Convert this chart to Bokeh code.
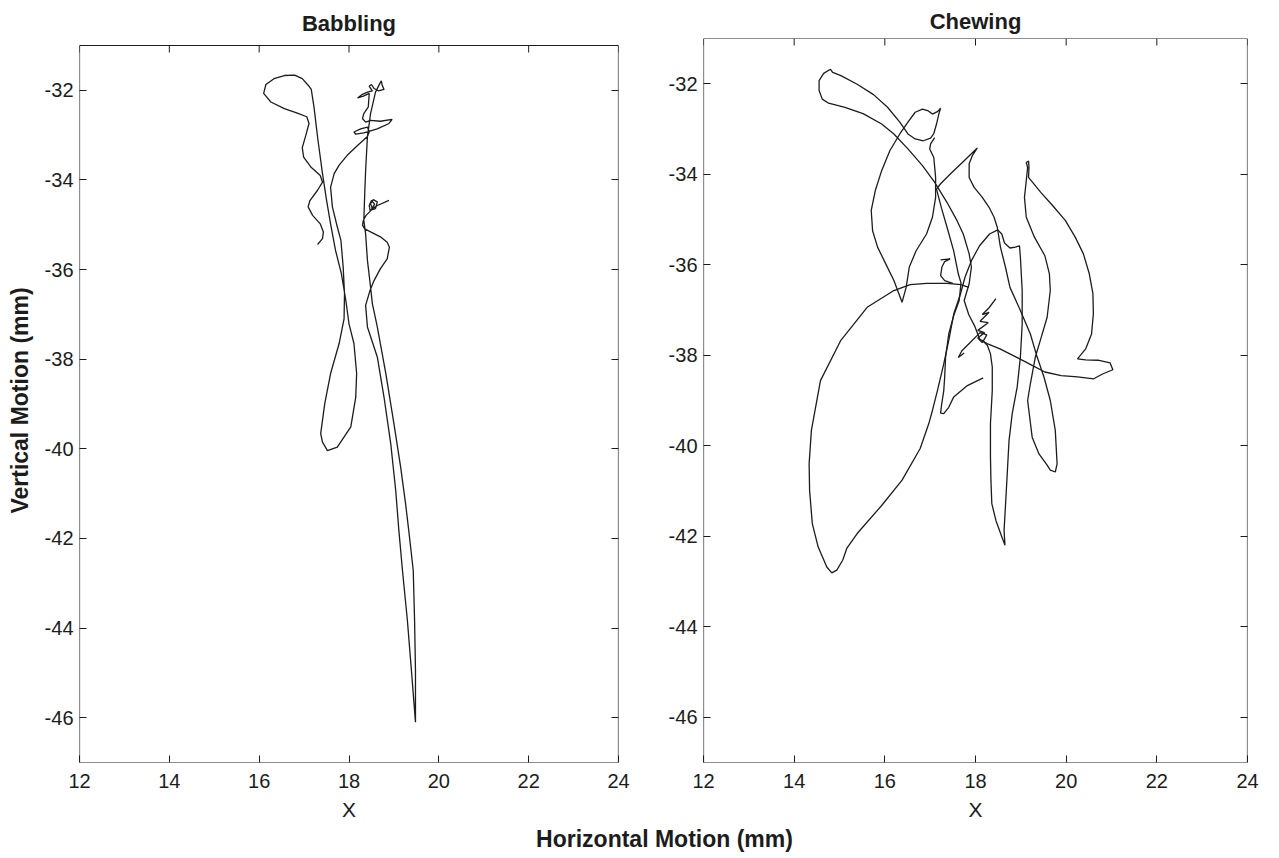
from bokeh.plotting import figure
from bokeh.models import LinearAxis, FixedTicker, Label, Range1d, BoxAnnotation
from bokeh.layouts import column, row
from bokeh.embed import file_html
from bokeh.resources import INLINE

# ---------------- data ----------------
x_ticks = [12, 14, 16, 18, 20, 22, 24]
y_ticks = [-46, -44, -42, -40, -38, -36, -34, -32]
x_limits = [12, 24]
y_limits = [-47, -31]
panel_titles = ["Babbling", "Chewing"]
x_label = "X"
y_label = "Vertical Motion (mm)"
shared_x_label = "Horizontal Motion (mm)"

# Babbling trajectory (mm)
babbling_x = [18.89, 18.63, 18.52, 18.48, 18.54, 18.63, 18.59, 18.47, 18.45, 18.50, 18.57, 18.48, 18.38, 18.32,
              18.30, 18.35, 18.48, 18.70, 18.85, 18.90, 18.85, 18.70, 18.56, 18.47, 18.37, 18.41, 18.63, 18.78,
              18.93, 19.04, 19.11, 19.19, 19.30, 19.39, 19.48,
              19.48, 19.46, 19.43, 19.33, 19.26, 19.15, 19.00, 18.82, 18.63, 18.52, 18.48, 18.41, 18.37, 18.33,
              18.35, 18.37, 18.41, 18.48, 18.59, 18.69,
              18.72, 18.74, 18.78, 18.65, 18.56, 18.50, 18.45, 18.52, 18.41, 18.30, 18.19, 18.32, 18.45, 18.43,
              18.33, 18.30, 18.37, 18.48, 18.70, 18.96, 18.89, 18.63, 18.33, 18.15, 18.11, 18.26, 18.41, 18.45, 18.41,
              18.19, 17.96, 17.78, 17.67, 17.59, 17.63, 17.74, 17.82, 17.87, 17.90, 17.89, 17.78, 17.59, 17.46,
              17.37, 17.41, 17.52, 17.74, 18.04, 18.15, 18.17, 18.11, 18.00, 17.93,
              17.83, 17.70, 17.59, 17.50, 17.41, 17.31, 17.22, 17.16,
              17.11, 16.96, 16.79, 16.56, 16.33, 16.15, 16.10, 16.26, 16.56, 16.85, 17.06, 17.11, 17.04, 16.96,
              16.99, 17.15, 17.36, 17.41, 17.30, 17.13, 17.09, 17.19, 17.36, 17.43, 17.41, 17.30]
babbling_y = [-34.455, -34.57, -34.64, -34.53, -34.44, -34.49, -34.64, -34.68, -34.57, -34.46, -34.54, -34.69, -34.79, -34.90,
              -35.01, -35.09, -35.16, -35.27, -35.39, -35.50, -35.76, -35.98, -36.24, -36.46, -36.80, -37.28, -37.95, -38.85,
              -39.89, -40.93, -41.82, -42.71, -43.83, -44.95, -46.10,
              -44.95, -43.83, -42.71, -41.82, -41.23, -40.41, -39.44, -38.32, -37.28, -36.76, -36.39, -35.79, -35.20, -34.90,
              -34.31, -33.79, -33.04, -32.52, -32.04, -31.84,
              -31.79, -31.89, -31.98, -32.01, -31.96, -31.87, -31.91, -32.01, -32.04, -32.09, -32.17, -32.13, -32.07, -32.37,
              -32.52, -32.63, -32.71, -32.67, -32.69, -32.65, -32.74, -32.86, -32.95, -32.98, -32.93, -32.86, -32.82, -32.93, -33.03,
              -33.23, -33.45, -33.67, -33.86, -34.16, -34.60, -35.05, -35.35, -35.94, -36.54, -37.10, -37.65, -38.32, -38.99,
              -39.66, -39.85, -40.04, -39.96, -39.51, -38.85, -38.32, -37.65, -37.21, -36.69,
              -36.09, -35.57, -34.98, -34.45, -33.86, -33.12, -32.37, -31.98,
              -31.91, -31.74, -31.66, -31.67, -31.74, -31.87, -32.07, -32.26, -32.41, -32.51, -32.59, -32.74, -33.00, -33.28,
              -33.49, -33.71, -33.90, -34.05, -34.23, -34.46, -34.60, -34.79, -34.98, -35.16, -35.31, -35.44]

# Chewing trajectory (mm), drawn as consecutive pieces
chew_loop_x = [17.85, 17.68, 17.37, 16.92, 16.56, 16.20, 15.61, 15.03, 14.58, 14.38, 14.33, 14.34, 14.40, 14.53,
               14.72, 14.83, 14.94, 15.07, 15.16, 15.39, 15.93, 16.38, 16.78, 16.97, 17.05, 17.16, 17.30, 17.41,
               17.52, 17.67, 17.77, 17.91, 18.09, 18.31, 18.49, 18.58, 18.64, 18.76, 18.88, 18.97, 18.99, 19.01,
               19.03, 19.03, 18.99, 18.92, 18.81, 18.74, 18.70, 18.66, 18.63, 18.65, 18.58, 18.45, 18.36, 18.34,
               18.33, 18.33, 18.37, 18.37, 18.33, 18.26, 18.15]
chew_loop_y = [-36.50, -36.44, -36.41, -36.41, -36.44, -36.57, -36.94, -37.67, -38.56, -39.66, -40.40, -40.98, -41.72, -42.24,
               -42.68, -42.81, -42.75, -42.53, -42.27, -41.94, -41.32, -40.76, -40.06, -39.51, -39.22, -38.78, -38.19, -37.67,
               -37.09, -36.64, -36.27, -35.91, -35.58, -35.32, -35.23, -35.32, -35.52, -35.63, -35.61, -35.58, -35.83, -36.20,
               -36.57, -37.31, -38.04, -38.70, -39.29, -39.88, -40.62, -41.35, -41.87, -42.20, -42.01, -41.65, -41.28, -40.76,
               -40.25, -39.51, -38.78, -38.26, -37.97, -37.78, -37.67]

chew_flame_x = [18.17, 17.82, 17.52, 17.41, 17.30, 17.23, 17.25, 17.30, 17.32, 17.34, 17.41, 17.52, 17.64, 17.68,
                17.62, 17.52, 17.38, 17.25, 17.14, 17.23, 17.45, 17.75, 18.04, 17.93, 17.86, 17.86, 17.97, 18.15,
                18.30, 18.41, 18.48, 18.55, 18.66, 18.76, 18.99, 19.21, 19.36, 19.51, 19.65, 19.76, 19.80, 19.76,
                19.65, 19.58, 19.40, 19.25, 19.15, 19.21, 19.32, 19.43, 19.58, 19.65, 19.63, 19.53, 19.30, 19.12,
                19.08, 19.12, 19.15, 19.12, 19.17, 19.18, 19.17, 19.44, 19.70, 19.98, 20.20, 20.38, 20.51, 20.59,
                20.60, 20.56, 20.43, 20.25, 20.43, 20.70, 20.97, 21.03, 20.79, 20.61, 20.25, 19.89, 19.53, 19.26,
                18.90, 18.54, 18.27, 18.09]
chew_flame_y = [-38.50, -38.67, -38.92, -39.15, -39.29, -39.28, -39.11, -38.78, -38.48, -38.04, -37.53, -37.12, -36.79, -36.40,
                -36.20, -35.70, -35.20, -34.75, -34.33, -34.21, -33.99, -33.70, -33.42, -33.59, -33.77, -34.07, -34.29, -34.51,
                -34.73, -34.95, -35.17, -35.61, -36.05, -36.50, -37.01, -37.53, -38.04, -38.48, -39.00, -39.66, -40.40, -40.58,
                -40.54, -40.43, -40.18, -39.81, -39.00, -38.63, -38.04, -37.67, -37.16, -36.57, -36.20, -35.80, -35.39, -34.95,
                -34.51, -34.14, -33.85, -33.74, -33.71, -33.85, -34.07, -34.40, -34.69, -35.02, -35.39, -35.76, -36.20, -36.64,
                -37.08, -37.53, -37.86, -38.08, -38.10, -38.11, -38.17, -38.32, -38.42, -38.52, -38.48, -38.45, -38.37, -38.23,
                -38.04, -37.86, -37.75, -37.64]

chew_leaf_x = [18.09, 17.98, 17.85, 17.75, 17.86, 17.91, 17.86, 17.73, 17.59, 17.37, 17.10, 16.83, 16.51, 16.20,
               15.93, 15.52, 15.12, 14.76, 14.62, 14.55, 14.55, 14.65, 14.80, 14.85, 15.03, 15.39, 15.75, 16.06,
               16.33, 16.51, 16.67, 16.85, 17.01, 17.08, 17.14, 17.19, 17.23, 17.17, 17.05, 16.96, 16.83, 16.67,
               16.51, 16.33, 16.11, 15.93, 15.79, 15.70, 15.73, 15.84, 16.02, 16.20, 16.38, 16.47, 16.54, 16.69,
               16.92, 17.05, 17.12, 17.12, 17.08, 16.99, 17.01, 17.10]
chew_leaf_y = [-37.64, -37.35, -37.10, -36.79, -36.42, -36.05, -35.76, -35.32, -35.02, -34.62, -34.18, -33.81, -33.44, -33.11,
               -32.89, -32.66, -32.52, -32.43, -32.34, -32.15, -31.93, -31.77, -31.68, -31.75, -31.82, -32.01, -32.24, -32.52,
               -32.85, -33.11, -33.22, -33.26, -33.20, -33.10, -32.89, -32.67, -32.54, -32.61, -32.67, -32.60, -32.56, -32.63,
               -32.85, -33.11, -33.48, -33.92, -34.36, -34.80, -35.25, -35.61, -35.98, -36.35, -36.83, -36.50, -36.05, -35.69,
               -35.32, -34.95, -34.51, -34.07, -33.63, -33.44, -33.33, -33.19]

chew_knot_x = [18.45, 18.30, 18.15, 18.30, 18.10, 18.28, 18.05, 18.20, 18.05, 18.15, 18.25, 18.10, 17.90, 17.70, 17.62, 17.75]
chew_knot_y = [-36.75, -36.95, -37.10, -37.05, -37.25, -37.28, -37.45, -37.50, -37.62, -37.72, -37.55, -37.50, -37.70, -37.90, -38.05, -37.95]

chew_hook_x = [17.23, 17.44, 17.32, 17.26, 17.23, 17.32, 17.50]
chew_hook_y = [-35.89, -35.87, -35.93, -36.05, -36.24, -36.35, -36.41]

chewing_xs = [chew_loop_x, chew_flame_x, chew_leaf_x, chew_knot_x, chew_hook_x]
chewing_ys = [chew_loop_y, chew_flame_y, chew_leaf_y, chew_knot_y, chew_hook_y]

# ---------------- styling ----------------
FONT = "Liberation Sans"
INK = "#1c1c1c"
TICK = 7          # px, ticks point inward
TOP_BORDER = 38
BOTTOM_BORDER = 5
FRAME_H = 724     # both frames share the same canvas rows
LABEL_STRIP_H = 64


def make_panel(title, frame_w, frame_top_gap, ml, mr, ylab, title_standoff):
    # px per mm in this panel: the box (data frame) is FRAME_H - frame_top_gap px tall
    ppu = (FRAME_H - frame_top_gap) / (y_limits[1] - y_limits[0])
    y_top = y_limits[1] + frame_top_gap / ppu
    p = figure(frame_width=frame_w, frame_height=FRAME_H,
               x_range=Range1d(*x_limits), y_range=Range1d(y_limits[0], y_top),
               output_backend="svg", toolbar_location=None, title=title,
               min_border_left=ml, min_border_right=mr,
               min_border_top=TOP_BORDER, min_border_bottom=BOTTOM_BORDER)
    p.xgrid.visible = False
    p.ygrid.visible = False
    p.outline_line_color = None
    p.background_fill_color = "white"
    p.border_fill_color = "white"
    p.title.text_font = FONT
    p.title.text_font_size = "22px"
    p.title.text_font_style = "bold"
    p.title.text_color = INK
    p.title.align = "center"
    p.title.standoff = title_standoff

    p.xaxis.ticker = FixedTicker(ticks=x_ticks, minor_ticks=[])
    p.yaxis.ticker = FixedTicker(ticks=y_ticks, minor_ticks=[])
    p.xaxis.major_label_overrides = {t: str(t) for t in x_ticks}
    p.yaxis.major_label_overrides = {t: str(t) for t in y_ticks}
    for ax in (p.xaxis[0], p.yaxis[0]):
        ax.major_tick_in = TICK
        ax.major_tick_out = 0
        ax.minor_tick_in = 0
        ax.minor_tick_out = 0
        ax.axis_line_color = None
        ax.major_tick_line_color = INK
        ax.major_label_text_font = FONT
        ax.major_label_text_font_size = "20px"
        ax.major_label_text_color = INK
        ax.axis_label_text_font = FONT
        ax.axis_label_text_color = INK
    p.xaxis.major_label_standoff = 11
    p.yaxis.major_label_standoff = 6
    if ylab:
        p.yaxis.axis_label = ylab
        p.yaxis.axis_label_text_font_size = "23px"
        p.yaxis.axis_label_text_font_style = "bold"
        p.yaxis.axis_label_standoff = 9

    # mirrored ticks on the right
    rax = LinearAxis(ticker=FixedTicker(ticks=y_ticks, minor_ticks=[]),
                     major_label_overrides={t: "" for t in y_ticks},
                     major_label_text_font_size="1px", major_label_standoff=0,
                     major_tick_in=TICK, major_tick_out=0, minor_tick_in=0, minor_tick_out=0,
                     axis_line_color=None, major_tick_line_color=INK)
    p.add_layout(rax, "right")
    # mirrored ticks along the top edge of the box
    n = len(x_ticks)
    p.segment(x0=x_ticks, y0=[y_limits[1]] * n, x1=x_ticks, y1=[y_limits[1] - TICK / ppu] * n,
              line_color=INK, line_width=1)
    # box frame
    p.add_layout(BoxAnnotation(left=x_limits[0], right=x_limits[1], bottom=y_limits[0], top=y_limits[1],
                               fill_color=None, fill_alpha=0, line_color=INK, line_alpha=1, line_width=1.2))
    return p


p1 = make_panel(panel_titles[0], 539, 7, 79, 28, y_label, 6)
p1.line(babbling_x, babbling_y, line_color=INK, line_width=1.3)

p2 = make_panel(panel_titles[1], 544, 0, 57, 16, None, 10)
p2.multi_line(chewing_xs, chewing_ys, line_color=INK, line_width=1.3)

# strip under both panels: the two "X" axis names and the shared axis name (pixel ranges, y from top)
strip_w = 1263
p3 = figure(width=strip_w, height=LABEL_STRIP_H, x_range=Range1d(0, strip_w), y_range=Range1d(LABEL_STRIP_H, 0),
            x_axis_type=None, y_axis_type=None, output_backend="svg", toolbar_location=None,
            min_border=0)
p3.outline_line_color = None
for cx in (348.5, 975):
    p3.add_layout(Label(x=cx, y=19, text=x_label, text_align="center", text_baseline="alphabetic",
                        text_font=FONT, text_font_size="21px", text_color=INK))
p3.add_layout(Label(x=664, y=48.5, text=shared_x_label, text_align="center", text_baseline="alphabetic",
                    text_font=FONT, text_font_size="23px", text_font_style="bold", text_color=INK))

layout = column(row(p1, p2), p3)
open("out.html", "w").write(file_html(layout, INLINE))
